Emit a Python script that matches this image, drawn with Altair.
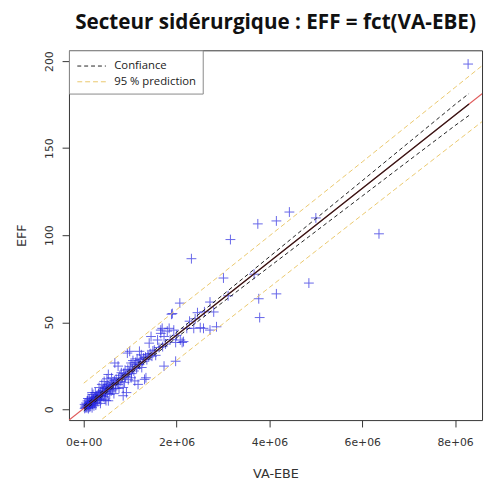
import altair as alt
import pandas as pd

# ---- data (VA-EBE in millions, EFF) ----
X_MILLIONS = [
    0.02, 0.03, 0.05, 0.04, 0.06, 0.08, 0.07, 0.10, 0.09, 0.11, 0.12, 0.13, 0.14, 0.15, 0.16,
    0.17, 0.18, 0.19, 0.20, 0.21, 0.22, 0.23, 0.24, 0.25, 0.26, 0.27, 0.28, 0.29, 0.30, 0.02,
    0.05, 0.08, 0.10, 0.13, 0.18, 0.22, 0.26, 0.12, 0.16, 0.20, 0.09, 0.25, 0.18,
    0.31, 0.32, 0.33, 0.34, 0.35, 0.36, 0.37, 0.38, 0.39, 0.40, 0.41, 0.42, 0.43, 0.44, 0.45,
    0.46, 0.47, 0.48, 0.49, 0.50, 0.51, 0.52, 0.53, 0.54, 0.55, 0.56, 0.57, 0.58, 0.59, 0.60,
    0.61, 0.62, 0.63, 0.64, 0.65, 0.66, 0.67, 0.68, 0.69, 0.70, 0.46, 0.53, 0.39, 0.36, 0.44, 0.50,
    0.72, 0.74, 0.74, 0.75, 0.76, 0.78, 0.80, 0.81, 0.83, 0.85, 0.85, 0.86, 0.88, 0.89, 0.90,
    0.92, 0.93, 0.94, 0.95, 0.96, 0.98, 0.99, 1.00, 1.02, 1.02, 1.03, 1.05, 1.06, 1.08, 1.10,
    1.10, 1.12, 1.14, 1.15, 1.17, 1.18, 1.20, 1.20, 1.22, 1.24, 1.25, 1.27, 1.29, 1.31, 1.33,
    1.34, 1.36, 1.38, 1.40, 1.41, 1.43, 1.45, 1.47, 1.49,
    1.52, 1.55, 1.59, 1.62, 1.66, 1.66, 1.69, 1.70, 1.73, 1.73, 1.76, 1.80, 1.84, 1.86, 1.89,
    1.91, 1.94, 1.98, 1.98, 2.00, 2.07, 2.08, 2.12, 2.15, 2.22, 2.28, 2.32, 2.37, 2.45, 2.51,
    2.58, 2.72, 2.72, 2.80, 2.86, 2.60, 2.40,
    3.01, 3.11, 3.16, 3.67, 3.75, 3.77, 3.79, 4.15, 4.15, 4.43, 4.85, 5.00, 6.36, 8.28,
]
EFF = [
    0.5, 1.2, 0.8, 2.0, 1.5, 2.2, 3.0, 2.6, 1.0, 3.4, 2.0, 4.1, 3.0, 1.8, 4.6,
    3.7, 5.2, 2.9, 4.4, 6.0, 5.1, 3.5, 6.8, 5.5, 4.0, 7.4, 6.2, 8.1, 5.0, 2.8,
    3.6, 4.8, 0.4, 1.2, 0.9, 2.0, 2.4, 5.9, 7.0, 8.5, 6.2, 9.6, 9.6,
    7.0, 9.0, 12.5, 6.0, 8.2, 10.1, 5.5, 7.8, 14.3, 9.5, 11.0, 7.2, 10.5, 12.0, 8.8,
    13.4, 10.0, 5.0, 11.8, 12.8, 9.2, 14.0, 20.0, 11.5, 13.0, 8.6, 15.0, 12.1, 10.5, 18.1,
    13.8, 11.2, 15.6, 14.2, 9.0, 16.5, 26.6, 14.5, 12.0, 17.2, 5.8, 4.9, 7.8, 3.4, 16.0, 17.5,
    15.2, 24.8, 14.3, 17.8, 12.0, 19.5, 16.0, 21.0, 18.2, 12.5, 7.8, 20.5, 15.5, 22.5, 18.8,
    9.6, 20.0, 32.3, 23.0, 17.0, 21.5, 33.3, 24.5, 26.6, 18.1, 20.5, 23.0, 28.0, 22.0, 16.3,
    25.5, 27.0, 23.5, 29.0, 14.3, 26.0, 25.7, 33.3, 28.5, 31.3, 24.0, 27.5, 29.5, 17.2, 30.0,
    18.1, 28.5, 31.3, 30.0, 38.0, 32.0, 41.8, 30.5, 33.5,
    34.0, 31.0, 39.8, 35.5, 43.6, 45.5, 46.5, 36.0, 41.8, 24.8, 37.5, 44.9, 46.5, 40.0, 54.6,
    55.0, 45.5, 38.4, 27.6, 42.5, 61.0, 39.8, 38.4, 38.9, 46.5, 50.6, 86.5, 46.5, 55.5, 46.9,
    46.5, 45.5, 61.6, 55.9, 47.4, 56.0, 52.0,
    75.4, 65.2, 97.5, 77.6, 106.5, 63.5, 52.7, 108.2, 66.3, 113.3, 72.5, 109.9, 100.8, 198.3,
]

# regression line (red, full width) and fitted line (dark)
ABLINE_X = [-1.0, 9.0]
ABLINE_Y = [-20.57, 190.13]
FIT_X = [0.0, 8.3]
FIT_Y = [0.5, 175.38]

# confidence band
CONF_X = [0, 1, 2, 3, 4, 5, 6, 7, 8, 8.3]
CONF_UP = [1.9, 22.8, 44.2, 65.8, 87.6, 109.5, 131.3, 153.2, 175.1, 181.4]
CONF_LO = [-0.9, 20.4, 41.1, 61.6, 81.9, 102.2, 122.5, 142.8, 163.0, 168.8]

# 95 % prediction band
PRED_X = [0, 1, 2, 3, 4, 5, 6, 7, 8, 9]
PRED_UP = [15.0, 36.1, 57.2, 78.3, 99.6, 120.8, 142.1, 163.5, 184.9, 206.3]
PRED_LO = [-14.0, 7.1, 28.1, 49.1, 70.0, 90.9, 111.7, 132.5, 153.2, 173.9]

SERIES = ["Confiance", "95 % prediction"]
SERIES_COLORS = ["#222222", "#ebc86c"]

X_TICKS = [0, 2e6, 4e6, 6e6, 8e6]
X_TICK_LABELS = ["0e+00", "2e+06", "4e+06", "6e+06", "8e+06"]
Y_TICKS = [0, 50, 100, 150, 200]

# ---- tables ----
pts = pd.DataFrame({"va": [v * 1e6 for v in X_MILLIONS], "eff": EFF})

rows = []
for x, u, l in zip(CONF_X, CONF_UP, CONF_LO):
    rows.append({"va": x * 1e6, "eff": u, "series": SERIES[0], "part": "c_up"})
    rows.append({"va": x * 1e6, "eff": l, "series": SERIES[0], "part": "c_lo"})
for x, u, l in zip(PRED_X, PRED_UP, PRED_LO):
    rows.append({"va": x * 1e6, "eff": u, "series": SERIES[1], "part": "p_up"})
    rows.append({"va": x * 1e6, "eff": l, "series": SERIES[1], "part": "p_lo"})
bands = pd.DataFrame(rows)

abl = pd.DataFrame({"va": [v * 1e6 for v in ABLINE_X], "eff": ABLINE_Y})
fit = pd.DataFrame({"va": [v * 1e6 for v in FIT_X], "eff": FIT_Y})

label_expr = "''"
for v, lab in zip(reversed(X_TICKS), reversed(X_TICK_LABELS)):
    label_expr = f"datum.value == {v} ? '{lab}' : ({label_expr})"

xscale = alt.Scale(domain=[-0.318e6, 8.58e6], nice=False, zero=False)
yscale = alt.Scale(domain=[-6.2, 206.2], nice=False, zero=False)

x_axis = alt.Axis(
    values=X_TICKS, labelExpr=label_expr, title="VA-EBE", grid=False, domain=False,
    tickSize=7, tickColor="#333333", labelFont="DejaVu Sans", labelFontSize=11,
    labelColor="#333333", labelPadding=10, titleFont="DejaVu Sans", titleFontSize=13,
    titleFontWeight="normal", titleColor="#333333", titleY=54, titleBaseline="middle",
)
y_axis = alt.Axis(
    values=Y_TICKS, title="EFF", grid=False, domain=False, tickSize=7, tickColor="#333333",
    labelFont="DejaVu Sans", labelFontSize=11, labelColor="#333333", labelAngle=270,
    labelAlign="center", labelBaseline="bottom", labelPadding=8,
    titleFont="DejaVu Sans", titleFontSize=13, titleFontWeight="normal", titleColor="#333333",
    titleAngle=270, titleX=-48, titleY=188, titleAlign="center", titleBaseline="middle",
)

X = alt.X("va:Q", scale=xscale, axis=x_axis)
Y = alt.Y("eff:Q", scale=yscale, axis=y_axis)

points = alt.Chart(pts).mark_point(
    shape="M-1,0H1M0,-1V1", size=100, strokeWidth=1, filled=False,
    color="#2626e0", opacity=0.7, clip=True,
).encode(x=X, y=Y)

legend_cfg = dict(
    title=None, orient="top-left", offset=0, padding=6, fillColor="white",
    strokeColor="#888888", symbolType="M-1.53,0H1.53", symbolSize=361,
    symbolStrokeWidth=1, symbolOffset=7, labelFont="Open Sans", labelFontSize=11.5,
    labelColor="#222222", labelOffset=13, rowPadding=0,
)

band_lines = alt.Chart(bands).mark_line(strokeWidth=1, clip=True).encode(
    x=X, y=Y, detail="part:N",
    color=alt.Color(
        "series:N", scale=alt.Scale(domain=SERIES, range=SERIES_COLORS),
        legend=alt.Legend(**legend_cfg),
    ),
    strokeDash=alt.StrokeDash(
        "series:N", scale=alt.Scale(domain=SERIES, range=[[4, 3], [5, 3]]),
        legend=alt.Legend(**legend_cfg),
    ),
)

red_line = alt.Chart(abl).mark_line(color="#e05a5a", strokeWidth=1.2, clip=True).encode(x=X, y=Y)
fit_line = alt.Chart(fit).mark_line(color="#2a1818", strokeWidth=1.2, clip=True).encode(x=X, y=Y)

chart = alt.layer(points, red_line, band_lines, fit_line).properties(
    width=420, height=376,
    autosize=alt.AutoSizeParams(type="none"),
    padding={"left": 62, "top": 39, "right": 2, "bottom": 63},
    title=alt.Title(
        "Secteur sidérurgique : EFF = fct(VA-EBE)", font="Open Sans", fontSize=21,
        fontWeight="bold", color="#111111", anchor="middle", offset=17,
    ),
).configure_view(stroke="#333333", strokeWidth=1)

chart.save("out.html", embed_options={"renderer": "svg", "actions": False})
